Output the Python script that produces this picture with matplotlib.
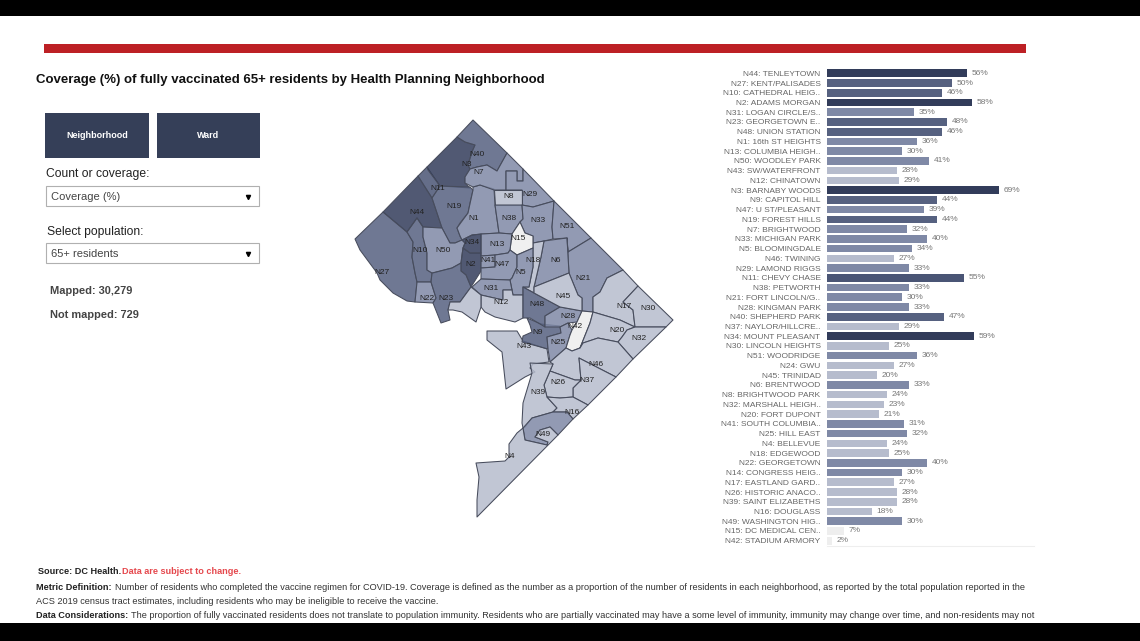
import matplotlib
matplotlib.use("Agg")
import matplotlib.pyplot as plt
from matplotlib.colors import to_rgba
from matplotlib.patches import Polygon, Rectangle

plt.rcParams['font.family'] = ['Liberation Sans', 'DejaVu Sans']

# bar chart data
bar_names = ["N44: TENLEYTOWN", "N27: KENT/PALISADES", "N10: CATHEDRAL HEIG..", "N2: ADAMS MORGAN",
             "N31: LOGAN CIRCLE/S..", "N23: GEORGETOWN E..", "N48: UNION STATION", "N1: 16th ST HEIGHTS",
             "N13: COLUMBIA HEIGH..", "N50: WOODLEY PARK", "N43: SW/WATERFRONT", "N12: CHINATOWN",
             "N3: BARNABY WOODS", "N9: CAPITOL HILL", "N47: U ST/PLEASANT", "N19: FOREST HILLS",
             "N7: BRIGHTWOOD", "N33: MICHIGAN PARK", "N5: BLOOMINGDALE", "N46: TWINING",
             "N29: LAMOND RIGGS", "N11: CHEVY CHASE", "N38: PETWORTH", "N21: FORT LINCOLN/G..",
             "N28: KINGMAN PARK", "N40: SHEPHERD PARK", "N37: NAYLOR/HILLCRE..", "N34: MOUNT PLEASANT",
             "N30: LINCOLN HEIGHTS", "N51: WOODRIDGE", "N24: GWU", "N45: TRINIDAD",
             "N6: BRENTWOOD", "N8: BRIGHTWOOD PARK", "N32: MARSHALL HEIGH..", "N20: FORT DUPONT",
             "N41: SOUTH COLUMBIA..", "N25: HILL EAST", "N4: BELLEVUE", "N18: EDGEWOOD",
             "N22: GEORGETOWN", "N14: CONGRESS HEIG..", "N17: EASTLAND GARD..", "N26: HISTORIC ANACO..",
             "N39: SAINT ELIZABETHS", "N16: DOUGLASS", "N49: WASHINGTON HIG..", "N15: DC MEDICAL CEN..",
             "N42: STADIUM ARMORY"]
bar_values = [56, 50, 46, 58, 35, 48, 46, 36, 30, 41, 28, 29, 69, 44, 39, 44, 32, 40, 34, 27, 33, 55, 33, 30,
              33, 47, 29, 59, 25, 36, 27, 20, 33, 24, 23, 21, 31, 32, 24, 25, 40, 30, 27, 28, 28, 18, 30, 7, 2]

# neighbourhood outlines
n27 = [(355, 239), (383, 212), (407, 232), (413, 242), (412, 257), (415, 273), (417, 282), (415, 302), (407, 301), (393, 293), (380, 280), (377, 273), (360, 250)]
n10 = [(407, 232), (417, 218), (423, 227), (423, 237), (427, 253), (427, 270), (432, 273), (431, 282), (417, 282), (415, 273), (412, 257), (413, 242)]
n44 = [(418, 176), (432, 198), (442, 228), (423, 227), (417, 218), (407, 232), (383, 212)]
n11 = [(418, 176), (427, 167), (440, 186), (432, 198)]
n3 = [(457, 137), (465, 142), (475, 145), (472, 152), (468, 165), (470, 169), (465, 177), (465, 183), (470, 188), (455, 187), (440, 186), (428, 170), (427, 167)]
n19 = [(432, 198), (440, 186), (470, 187), (473, 190), (470, 203), (468, 213), (460, 223), (457, 228), (460, 236), (462, 240), (455, 243), (450, 243), (442, 228)]
n50 = [(423, 227), (442, 228), (450, 243), (455, 243), (462, 240), (465, 243), (463, 248), (462, 255), (461, 263), (452, 268), (433, 273), (432, 273), (427, 270), (427, 253), (423, 237)]
n1 = [(473, 187), (480, 185), (494, 189), (495, 205), (499, 233), (482, 234), (472, 235), (462, 240), (460, 236), (457, 228), (468, 213), (473, 190)]
n40 = [(473, 120), (507, 153), (497, 171), (487, 165), (477, 167), (470, 169), (468, 165), (472, 152), (475, 145), (465, 142), (457, 137)]
n7 = [(470, 169), (477, 167), (487, 165), (497, 171), (507, 153), (523, 169), (523, 181), (517, 181), (517, 171), (506, 171), (506, 190), (494, 190), (480, 185), (473, 187), (465, 183), (465, 177)]
n29 = [(523, 169), (554, 201), (533, 207), (522, 205), (522, 190), (506, 190), (506, 171), (517, 171), (517, 181), (523, 181)]
n8 = [(494, 190), (522, 190), (522, 205), (495, 205)]
n38 = [(495, 205), (522, 205), (523, 219), (520, 222), (516, 228), (512, 234), (499, 233)]
n33 = [(522, 205), (533, 207), (554, 201), (552, 227), (553, 239), (544, 241), (533, 243), (533, 236), (525, 233), (520, 222), (523, 219)]
n51 = [(554, 201), (591, 238), (568, 252), (567, 238), (553, 239), (552, 227)]
n21 = [(568, 252), (591, 238), (623, 270), (607, 278), (600, 292), (593, 297), (593, 312), (582, 311), (582, 298), (578, 295), (569, 273), (567, 238)]
n6 = [(544, 241), (567, 238), (569, 273), (534, 287), (541, 257)]
n18 = [(544, 241), (541, 257), (534, 287), (534, 293), (523, 287), (529, 287), (533, 267), (533, 248), (533, 243)]
n15 = [(520, 222), (525, 233), (533, 236), (533, 248), (517, 255), (510, 250), (512, 234), (516, 228)]
n13 = [(481, 234), (499, 233), (512, 234), (510, 250), (508, 253), (495, 255), (481, 256)]
n34 = [(462, 240), (472, 235), (481, 234), (481, 253), (470, 253), (463, 248), (465, 243)]
n2 = [(462, 255), (463, 248), (470, 253), (481, 253), (481, 271), (471, 287), (466, 275), (461, 271), (461, 263)]
n41 = [(481, 256), (495, 255), (495, 267), (481, 268)]
n47 = [(495, 255), (508, 253), (510, 250), (517, 255), (517, 267), (512, 278), (510, 280), (481, 279), (481, 268), (495, 267)]
n5 = [(517, 255), (533, 248), (533, 267), (529, 287), (523, 287), (523, 295), (513, 295), (512, 290), (510, 280), (512, 278), (517, 267)]
n31 = [(472, 287), (481, 279), (510, 280), (512, 290), (503, 290), (503, 300), (481, 295)]
n12 = [(481, 295), (503, 300), (503, 290), (512, 290), (513, 295), (523, 295), (523, 318), (515, 322), (495, 317), (485, 312), (481, 307)]
n43 = [(487, 331), (517, 331), (523, 341), (547, 349), (549, 362), (533, 364), (530, 368), (535, 372), (525, 377), (506, 389), (502, 352), (487, 340)]
n9 = [(527, 318), (541, 324), (560, 326), (561, 333), (547, 337), (548, 349), (522, 342), (523, 336), (532, 332), (530, 325)]
n48 = [(523, 287), (560, 307), (545, 316), (545, 327), (530, 318), (523, 318)]
n28 = [(545, 316), (560, 307), (582, 311), (577, 322), (568, 323), (560, 327), (545, 327)]
n25 = [(547, 337), (561, 333), (560, 327), (568, 323), (572, 330), (570, 335), (566, 348), (550, 362), (548, 349)]
n45 = [(534, 287), (569, 273), (578, 295), (582, 298), (582, 311), (560, 307), (534, 293)]
n42 = [(582, 311), (593, 312), (590, 323), (580, 348), (572, 351), (566, 348), (570, 335), (572, 330), (577, 322)]
n17 = [(623, 270), (638, 286), (623, 302), (633, 310), (635, 327), (620, 320), (593, 312), (593, 297), (600, 292), (607, 278)]
n30 = [(638, 286), (673, 320), (666, 327), (635, 327), (633, 310), (623, 302)]
n20 = [(593, 312), (620, 320), (635, 327), (627, 330), (622, 337), (618, 342), (598, 338), (583, 343), (580, 348), (590, 323)]
n32 = [(635, 327), (666, 327), (633, 359), (618, 342), (622, 337), (627, 330)]
n46 = [(550, 362), (566, 348), (572, 351), (580, 348), (583, 343), (598, 338), (618, 342), (633, 359), (616, 377), (579, 358), (581, 380), (575, 380), (550, 371), (553, 364)]
n37 = [(579, 358), (616, 377), (588, 405), (573, 397), (573, 388), (581, 380)]
n26 = [(550, 371), (575, 380), (581, 380), (573, 388), (573, 397), (560, 398), (547, 397), (544, 385)]
n39 = [(530, 363), (553, 364), (550, 371), (544, 385), (547, 397), (557, 408), (553, 412), (532, 418), (525, 427), (523, 428), (522, 423), (523, 403), (532, 373)]
n16 = [(547, 397), (560, 398), (573, 397), (588, 405), (573, 419), (567, 412), (553, 412), (557, 408)]
n49 = [(532, 418), (553, 412), (567, 412), (573, 419), (558, 435), (550, 427), (540, 430), (535, 437), (548, 442), (547, 445), (525, 440), (523, 428)]
n4 = [(523, 428), (525, 440), (547, 445), (548, 442), (535, 437), (540, 430), (550, 427), (558, 435), (477, 517), (477, 500), (479, 477), (476, 463), (505, 461), (509, 457), (509, 444), (517, 433)]
n22 = [(417, 282), (431, 282), (436, 298), (433, 303), (415, 302)]
n23 = [(432, 273), (452, 268), (461, 263), (461, 271), (466, 275), (471, 287), (460, 302), (450, 302), (448, 310), (450, 320), (441, 323), (433, 303), (436, 298), (431, 282)]
n24 = [(471, 287), (481, 295), (481, 307), (476, 322), (462, 312), (453, 310), (448, 310), (450, 302), (460, 302)]

map_shapes = {"N27": n27, "N10": n10, "N44": n44, "N11": n11, "N3": n3, "N19": n19, "N50": n50, "N1": n1,
              "N40": n40, "N7": n7, "N29": n29, "N8": n8, "N38": n38, "N33": n33, "N51": n51, "N21": n21,
              "N6": n6, "N18": n18, "N15": n15, "N13": n13, "N34": n34, "N2": n2, "N41": n41, "N47": n47,
              "N5": n5, "N31": n31, "N12": n12, "N43": n43, "N9": n9, "N48": n48, "N28": n28, "N25": n25,
              "N45": n45, "N42": n42, "N17": n17, "N30": n30, "N20": n20, "N32": n32, "N46": n46, "N37": n37,
              "N26": n26, "N39": n39, "N16": n16, "N49": n49, "N4": n4, "N22": n22, "N23": n23, "N24": n24}

map_labels = [("N40", 477, 154), ("N3", 467, 165), ("N7", 479, 173), ("N11", 438, 188), ("N29", 530, 194),
              ("N8", 509, 197), ("N19", 454, 207), ("N44", 417, 213), ("N1", 474, 219), ("N38", 509, 218),
              ("N33", 538, 220), ("N51", 567, 227), ("N34", 472, 243), ("N13", 497, 245), ("N15", 518, 239),
              ("N50", 443, 250), ("N10", 420, 250), ("N18", 533, 260), ("N6", 556, 260), ("N41", 488, 261),
              ("N47", 502, 265), ("N2", 471, 264), ("N5", 521, 272), ("N27", 382, 272), ("N21", 583, 278),
              ("N31", 491, 288), ("N45", 563, 296), ("N22", 427, 298), ("N23", 446, 298), ("N12", 501, 303),
              ("N48", 537, 305), ("N17", 624, 307), ("N30", 648, 308), ("N28", 568, 317), ("N42", 575, 327),
              ("N9", 538, 333), ("N20", 617, 330), ("N32", 639, 339), ("N25", 558, 342), ("N43", 524, 346),
              ("N46", 596, 364), ("N37", 587, 380), ("N26", 558, 383), ("N39", 538, 393), ("N16", 572, 412),
              ("N49", 543, 434), ("N4", 510, 457)]

title = "Coverage (%) of fully vaccinated 65+ residents by Health Planning Neighborhood"
note_metric = ("Number of residents who completed the vaccine regimen for COVID-19. Coverage is defined as the number as a "
               "proportion of the number of residents in each neighborhood, as reported by the total population reported in the")
note_metric2 = "ACS 2019 census tract estimates, including residents who may be ineligible to receive the vaccine."
note_data = ("The proportion of fully vaccinated residents does not translate to population immunity. Residents who are "
             "partially vaccinated may have a some level of immunity, immunity may change over time, and non-residents may not")


def bar_colour(v):
    if v < 10:
        return "#eeeeee"
    if v < 30:
        return "#b6bccd"
    if v < 44:
        return "#7f89a6"
    if v < 55:
        return "#566180"
    if v < 56:
        return "#4a5575"
    return "#323c5a"


def run_in(ax, x, y, bold_text, plain_text, size, plain_col="#333333", bold_col="#222222"):
    # bold lead-in, then normal text straight after it
    t = ax.text(x, y, bold_text, fontsize=size, fontweight="bold", color=bold_col, va="center")
    fig.canvas.draw()
    box = t.get_window_extent()
    ax.text(box.x1 + 2.5, y, plain_text, fontsize=size, color=plain_col, va="center")


fig = plt.figure(figsize=(11.4, 6.41), dpi=100)
page = fig.add_axes([0, 0, 1, 1])
page.set_xlim(0, 1140)
page.set_ylim(641, 0)
page.axis("off")

# black strips and the red rule
page.add_patch(Rectangle((0, 0), 1140, 16, fc="black", lw=0))
page.add_patch(Rectangle((0, 623), 1140, 18, fc="black", lw=0))
page.add_patch(Rectangle((44, 43.5), 982, 9, fc="#bd2025", lw=0))

page.text(36.5, 79.5, title, fontsize=9.57, fontweight="bold", color="#111111", va="center")

# buttons and drop downs
page.add_patch(Rectangle((45.3, 112.7), 103.7, 45.3, fc="#353f58", lw=0))
page.add_patch(Rectangle((157, 112.7), 102.7, 45.3, fc="#353f58", lw=0))
page.text(97, 135.5, "Neighborhood", fontsize=6.5, fontweight="bold", color="white", ha="center", va="center")
page.text(208.5, 135.5, "Ward", fontsize=6.5, fontweight="bold", color="white", ha="center", va="center")

page.text(46, 173.5, "Count or coverage:", fontsize=8.75, color="#222222", va="center")
page.add_patch(Rectangle((46.3, 185.7), 212.4, 20, fc="white", ec="#b0b0b0", lw=0.8))
page.text(51, 196.5, "Coverage (%)", fontsize=8, color="#444444", va="center")
page.plot([248], [196.5], marker="v", ms=3, color="black")

page.text(47, 231.5, "Select population:", fontsize=8.75, color="#222222", va="center")
page.add_patch(Rectangle((46.3, 242.7), 212.4, 20.6, fc="white", ec="#b0b0b0", lw=0.8))
page.text(51, 254, "65+ residents", fontsize=8, color="#444444", va="center")
page.plot([248], [253.5], marker="v", ms=3, color="black")

page.text(50, 291, "Mapped: 30,279", fontsize=7.9, fontweight="bold", color="#444444", va="center")
page.text(50, 314.5, "Not mapped: 729", fontsize=7.9, fontweight="bold", color="#444444", va="center")

# map, coloured from the bar values
value_of = {n.split(":")[0]: v for n, v in zip(bar_names, bar_values)}
for code, shape in map_shapes.items():
    page.add_patch(Polygon(shape, closed=True, fc=to_rgba(bar_colour(value_of[code]), 0.85),
                           ec="#474c5c", lw=0.75, joinstyle="round"))
for code, x, y in map_labels:
    page.text(x, y, code, fontsize=6, color="#222222", ha="center", va="center")

# bar chart
ax = fig.add_axes([826.7 / 1140, 1 - 545.6 / 641, (1034 - 826.7) / 1140, (545.6 - 68.4) / 641])
ax.patch.set_alpha(0)
rows = list(range(len(bar_names)))
ax.barh(rows, bar_values, height=0.78, color=[bar_colour(v) for v in bar_values])
ax.set_ylim(len(rows) - 0.5, -0.5)
ax.set_xlim(0, (1034 - 826.7) / 2.5)
ax.set_yticks(rows)
ax.set_yticklabels(bar_names, fontsize=6, color="#666666")
ax.tick_params(axis="y", length=0, pad=4.4)
ax.set_xticks([])
for side in ["top", "right", "left"]:
    ax.spines[side].set_visible(False)
ax.spines["bottom"].set_color("#eeeeee")
for r, v in zip(rows, bar_values):
    ax.text(v + 1.9, r, f"{v}%", fontsize=6, color="#777777", va="center")

# footer notes
run_in(page, 38, 572, "Source: DC Health.", "", 6.55)
page.text(122, 572, "Data are subject to change.", fontsize=6.55, fontweight="bold", color="#e5484d", va="center")
run_in(page, 36.5, 587, "Metric Definition:", note_metric, 6.55)
page.text(36.5, 602, note_metric2, fontsize=6.55, color="#333333", va="center")
run_in(page, 36.5, 616, "Data Considerations:", note_data, 6.55)

fig.savefig("out.png", dpi=100)
